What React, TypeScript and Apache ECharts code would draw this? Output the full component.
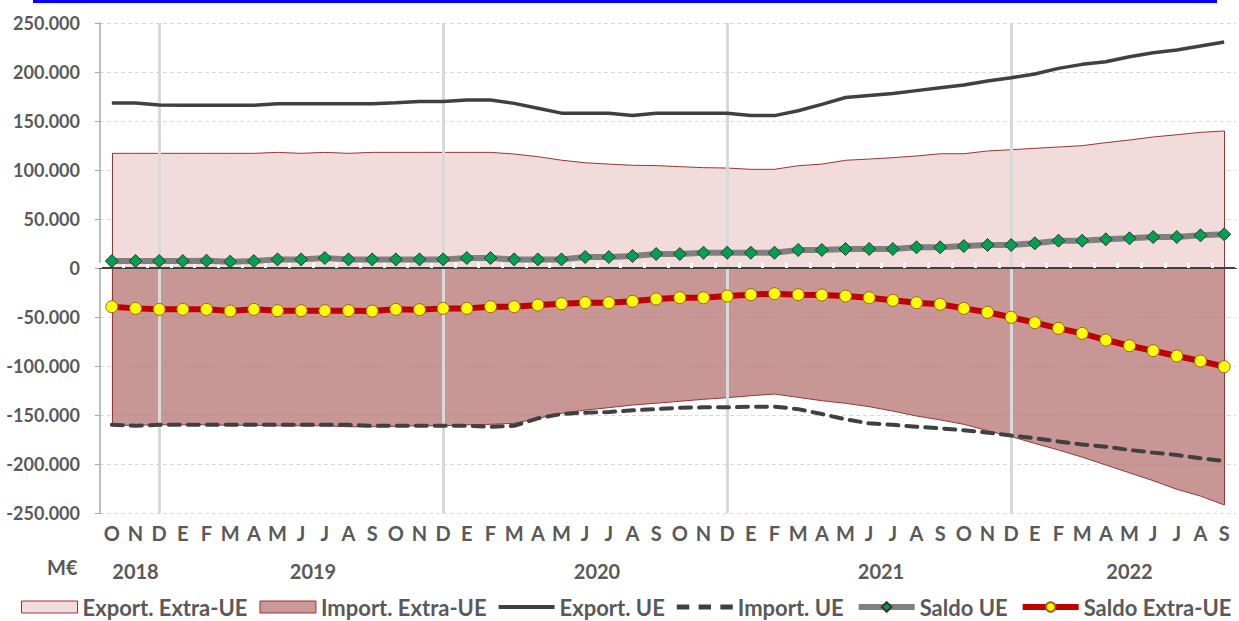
import React, { useEffect, useRef } from "react";
import * as echarts from "echarts";

// Month initials (Spanish) from Oct 2018 to Sep 2022
const months = [
  "O", "N", "D",
  "E", "F", "M", "A", "M", "J", "J", "A", "S", "O", "N", "D",
  "E", "F", "M", "A", "M", "J", "J", "A", "S", "O", "N", "D",
  "E", "F", "M", "A", "M", "J", "J", "A", "S", "O", "N", "D",
  "E", "F", "M", "A", "M", "J", "J", "A", "S",
];
const monthYears = [
  2018, 2018, 2018,
  2019, 2019, 2019, 2019, 2019, 2019, 2019, 2019, 2019, 2019, 2019, 2019,
  2020, 2020, 2020, 2020, 2020, 2020, 2020, 2020, 2020, 2020, 2020, 2020,
  2021, 2021, 2021, 2021, 2021, 2021, 2021, 2021, 2021, 2021, 2021, 2021,
  2022, 2022, 2022, 2022, 2022, 2022, 2022, 2022, 2022,
];
const yearLabels = ["2018", "2019", "2020", "2021", "2022"];

// values in thousands of M€
const exportExtraUE = [
  117, 117, 117, 117, 117, 117, 117, 118, 117, 118, 117, 118, 118, 118, 118, 118,
  118, 116.3, 113.6, 110, 107.4, 106, 104.8, 104.5, 103.4, 102.4, 102, 100.7, 100.7,
  104.4, 106, 109.9, 111.2, 112.6, 114.3, 116.6, 116.6, 119.4, 120.7, 122.1, 123.5,
  124.8, 127.9, 130.6, 133.7, 136, 138.4, 139.8,
];
const importExtraUE = [
  -160.5, -160.5, -160, -160, -160, -160.5, -160.5, -161, -161, -161, -162, -162,
  -161.5, -161, -161, -160, -159.5, -158.5, -153.4, -148.3, -145, -142.5, -139.8,
  -138, -136, -134, -132.3, -130.3, -128.6, -132, -135.4, -138, -141.5, -146, -151,
  -155, -159.5, -166, -172, -179, -185.7, -193, -201, -209, -217, -225.8, -232.7, -241.8,
];
const exportUE = [
  168.4, 168.4, 166.3, 166, 166, 166, 166, 167.5, 167.5, 167.5, 167.5, 167.5, 168.5,
  170, 170, 171.4, 171.4, 168, 163, 158, 158, 158, 155.5, 158, 158, 158, 158, 155.5,
  155.5, 160.5, 167, 174, 176, 178, 181, 184, 186.7, 190.8, 194.2, 198, 203.7, 207.8,
  210.5, 215.6, 219.7, 222.4, 226.5, 230.6,
];
const importUE = [
  -160, -161, -160, -160, -160, -160, -160, -160, -160, -160, -160, -161, -161, -161,
  -161, -161, -162, -161, -153.4, -149, -147.6, -147, -145.2, -144, -142.5, -142.2,
  -142.2, -141.5, -141.5, -144, -149, -154.4, -158.5, -160, -162, -163.6, -165.6, -168,
  -171, -173.8, -177, -180, -182.3, -185.7, -188.4, -190.8, -194.2, -197,
];
const saldoUE = [
  7.1, 7.1, 7.1, 7.1, 7.5, 6.5, 7.1, 8.8, 8.8, 10.2, 8.8, 8.8, 8.8, 8.8, 8.8, 10.2,
  10.2, 8.8, 8.8, 8.8, 11.2, 11.2, 12.2, 14.3, 14.3, 15.6, 15.6, 15.6, 15.6, 18.4,
  18.4, 19.4, 19.4, 19.4, 21.1, 21.1, 22.4, 23.5, 23.5, 25.2, 27.9, 27.9, 29.3, 30.3,
  31.6, 31.6, 33.3, 34.4,
];
const saldoExtraUE = [
  -39.5, -41.2, -42.2, -42.2, -42.2, -43.9, -42.2, -43.5, -43.5, -43.5, -43.5, -43.9,
  -42.2, -42.5, -41.2, -41.2, -39.5, -39.5, -37.8, -36.4, -35.4, -35.4, -34, -31.6,
  -30.3, -30.3, -28.6, -27.2, -26.2, -27.2, -27.6, -28.6, -30.3, -33, -35.4, -37,
  -41.2, -45.2, -50.3, -55.8, -61.6, -66.7, -73.5, -79.3, -84.4, -89.8, -94.9, -100.7,
];

const FONT = "Lato, 'Open Sans', sans-serif";
const GREY_TEXT = "#595959";
const BORDER_RED = "#953735";

export default function App() {
  const ref = useRef<HTMLDivElement>(null);

  useEffect(() => {
    document.body.style.margin = "0";
    if (!ref.current) return;
    const chart = echarts.init(ref.current, undefined, { renderer: "svg" });

    // year label centres (category index) derived from the month/year list
    const yearCenters: Record<string, number> = {};
    yearLabels.forEach((y) => {
      const idx = monthYears.map((m, i) => (String(m) === y ? i : -1)).filter((i) => i >= 0);
      yearCenters[y] = (idx[0] + idx[idx.length - 1]) / 2;
    });

    // December indices (year separators)
    const decIdx = months.map((m, i) => (m === "D" ? i : -1)).filter((i) => i >= 0);
    const last = months.length - 1;

    const edge = (i: number, v: number) => [
      { coord: [i, 0] },
      { coord: [i, v] },
    ];

    const option: any = {
      animation: false,
      textStyle: { fontFamily: FONT },
      grid: { left: 100, right: 3, top: 23, bottom: 108, containLabel: false },
      legend: {
        left: 21,
        top: 596,
        width: 1260,
        padding: 0,
        itemGap: 12,
        itemWidth: 56,
        itemHeight: 12,
        selectedMode: false,
        textStyle: { fontFamily: FONT, fontSize: 22, fontWeight: "bold", color: GREY_TEXT },
        data: [
          {
            name: "Export. Extra-UE",
            icon: "rect",
            itemStyle: { color: "#f2dcdb", borderColor: BORDER_RED, borderWidth: 1 },
          },
          {
            name: "Import. Extra-UE",
            icon: "rect",
            itemStyle: { color: "#c99897", borderColor: BORDER_RED, borderWidth: 1 },
          },
          {
            name: "Export. UE",
            icon: "path://M0,0 L56,0 L56,4 L0,4 Z",
            itemStyle: { color: "#404040" },
          },
          {
            name: "Import. UE",
            icon: "path://M1,0 L13,0 L13,5 L1,5 Z M22,0 L34,0 L34,5 L22,5 Z M43,0 L55,0 L55,5 L43,5 Z",
            itemStyle: { color: "#404040" },
          },
          { name: "Saldo UE", lineStyle: { width: 6, color: "#808080" } },
          { name: "Saldo Extra-UE", lineStyle: { width: 6, color: "#c00000" } },
        ],
      },
      xAxis: [
        {
          type: "category",
          data: months,
          position: "bottom",
          boundaryGap: true,
          axisLine: { show: false, onZero: false },
          axisTick: { show: false },
          splitLine: { show: false },
          axisLabel: {
            interval: 0,
            margin: 10,
            fontFamily: FONT,
            fontSize: 20,
            fontWeight: "bold",
            color: GREY_TEXT,
          },
        },
        {
          type: "value",
          min: -0.5,
          max: 47.5,
          interval: 0.5,
          position: "bottom",
          offset: 38,
          axisLine: { show: false, onZero: false },
          axisTick: { show: false },
          splitLine: { show: false },
          axisLabel: {
            margin: 10,
            fontFamily: FONT,
            fontSize: 20,
            fontWeight: "bold",
            color: GREY_TEXT,
            showMinLabel: true,
            showMaxLabel: true,
            formatter: (v: number) => {
              for (const y of yearLabels) {
                if (Math.abs(yearCenters[y] - v) < 0.01) return y;
              }
              return "";
            },
          },
        },
        {
          type: "category",
          data: months,
          position: "bottom",
          boundaryGap: true,
          axisLine: { show: true, onZero: true, lineStyle: { color: "#404040", width: 2 } },
          axisTick: {
            show: true,
            inside: true,
            interval: 0,
            length: 5,
            lineStyle: { color: "#ffffff", width: 3 },
          },
          axisLabel: { show: false },
          splitLine: { show: false },
          z: 2,
        },
      ],
      yAxis: {
        type: "value",
        min: -250,
        max: 250,
        interval: 50,
        axisLine: { show: true, onZero: false, lineStyle: { color: "#a6a6a6", width: 1.5 } },
        axisTick: { show: true, length: 5, lineStyle: { color: "#a6a6a6" } },
        splitLine: { show: true, lineStyle: { color: "#d9d9d9", type: [4, 3], width: 1 } },
        axisLabel: {
          margin: 20,
          fontFamily: FONT,
          fontSize: 18,
          fontWeight: "bold",
          color: GREY_TEXT,
          formatter: (v: number) => (v === 0 ? "0" : `${v}.000`),
        },
      },
      graphic: [
        {
          type: "rect",
          left: 33,
          top: 0,
          shape: { width: 1184, height: 3 },
          style: { fill: "#0000ff" },
          silent: true,
        },
        {
          type: "text",
          left: 47,
          top: 557,
          style: {
            text: "M€",
            fontFamily: FONT,
            fontSize: 20,
            fontWeight: "bold",
            fill: GREY_TEXT,
          },
          silent: true,
        },
      ],
      series: [
        {
          name: "Export. Extra-UE",
          type: "line",
          data: exportExtraUE,
          symbol: "none",
          z: 1,
          itemStyle: { color: "#f2dcdb" },
          lineStyle: { color: BORDER_RED, width: 1 },
          areaStyle: { color: "#f2dcdb", opacity: 1 },
          markLine: {
            silent: true,
            z: 2,
            symbol: ["none", "none"],
            label: { show: false },
            emphasis: { disabled: true },
            data: [
              ...decIdx.map((i) => ({
                xAxis: i,
                lineStyle: { color: "#d9d9d9", width: 3, type: "solid" },
              })),
              edge(0, exportExtraUE[0]).map((p) => ({
                ...p,
                lineStyle: { color: BORDER_RED, width: 1, type: "solid" },
              })),
              edge(last, exportExtraUE[last]).map((p) => ({
                ...p,
                lineStyle: { color: BORDER_RED, width: 1, type: "solid" },
              })),
            ],
          },
        },
        {
          name: "Import. Extra-UE",
          type: "line",
          data: importExtraUE,
          symbol: "none",
          z: 1,
          itemStyle: { color: "#c99897" },
          lineStyle: { color: BORDER_RED, width: 1 },
          areaStyle: { color: "rgba(178,106,105,0.7)", opacity: 1 },
          markLine: {
            silent: true,
            z: 1.5,
            symbol: ["none", "none"],
            label: { show: false },
            emphasis: { disabled: true },
            data: [
              edge(0, importExtraUE[0]).map((p) => ({
                ...p,
                lineStyle: { color: BORDER_RED, width: 1, type: "solid" },
              })),
              edge(last, importExtraUE[last]).map((p) => ({
                ...p,
                lineStyle: { color: BORDER_RED, width: 1, type: "solid" },
              })),
            ],
          },
        },
        {
          name: "Export. UE",
          type: "line",
          data: exportUE,
          symbol: "none",
          z: 3,
          itemStyle: { color: "#404040" },
          lineStyle: { color: "#404040", width: 3.5 },
        },
        {
          name: "Import. UE",
          type: "line",
          data: importUE,
          symbol: "none",
          z: 3,
          itemStyle: { color: "#404040" },
          lineStyle: { color: "#404040", width: 4, type: [11, 8], cap: "round" },
        },
        {
          name: "Saldo UE",
          type: "line",
          data: saldoUE,
          symbol: "diamond",
          symbolSize: 13,
          z: 4,
          itemStyle: { color: "#00a050", borderColor: "#333333", borderWidth: 1 },
          lineStyle: { color: "#808080", width: 6 },
        },
        {
          name: "Saldo Extra-UE",
          type: "line",
          data: saldoExtraUE,
          symbol: "circle",
          symbolSize: 12,
          z: 4,
          itemStyle: { color: "#ffff00", borderColor: "#a0601a", borderWidth: 1 },
          lineStyle: { color: "#c00000", width: 6 },
        },
      ],
    };

    chart.setOption(option);
    return () => chart.dispose();
  }, []);

  return <div ref={ref} style={{ width: 1239, height: 621 }} />;
}
